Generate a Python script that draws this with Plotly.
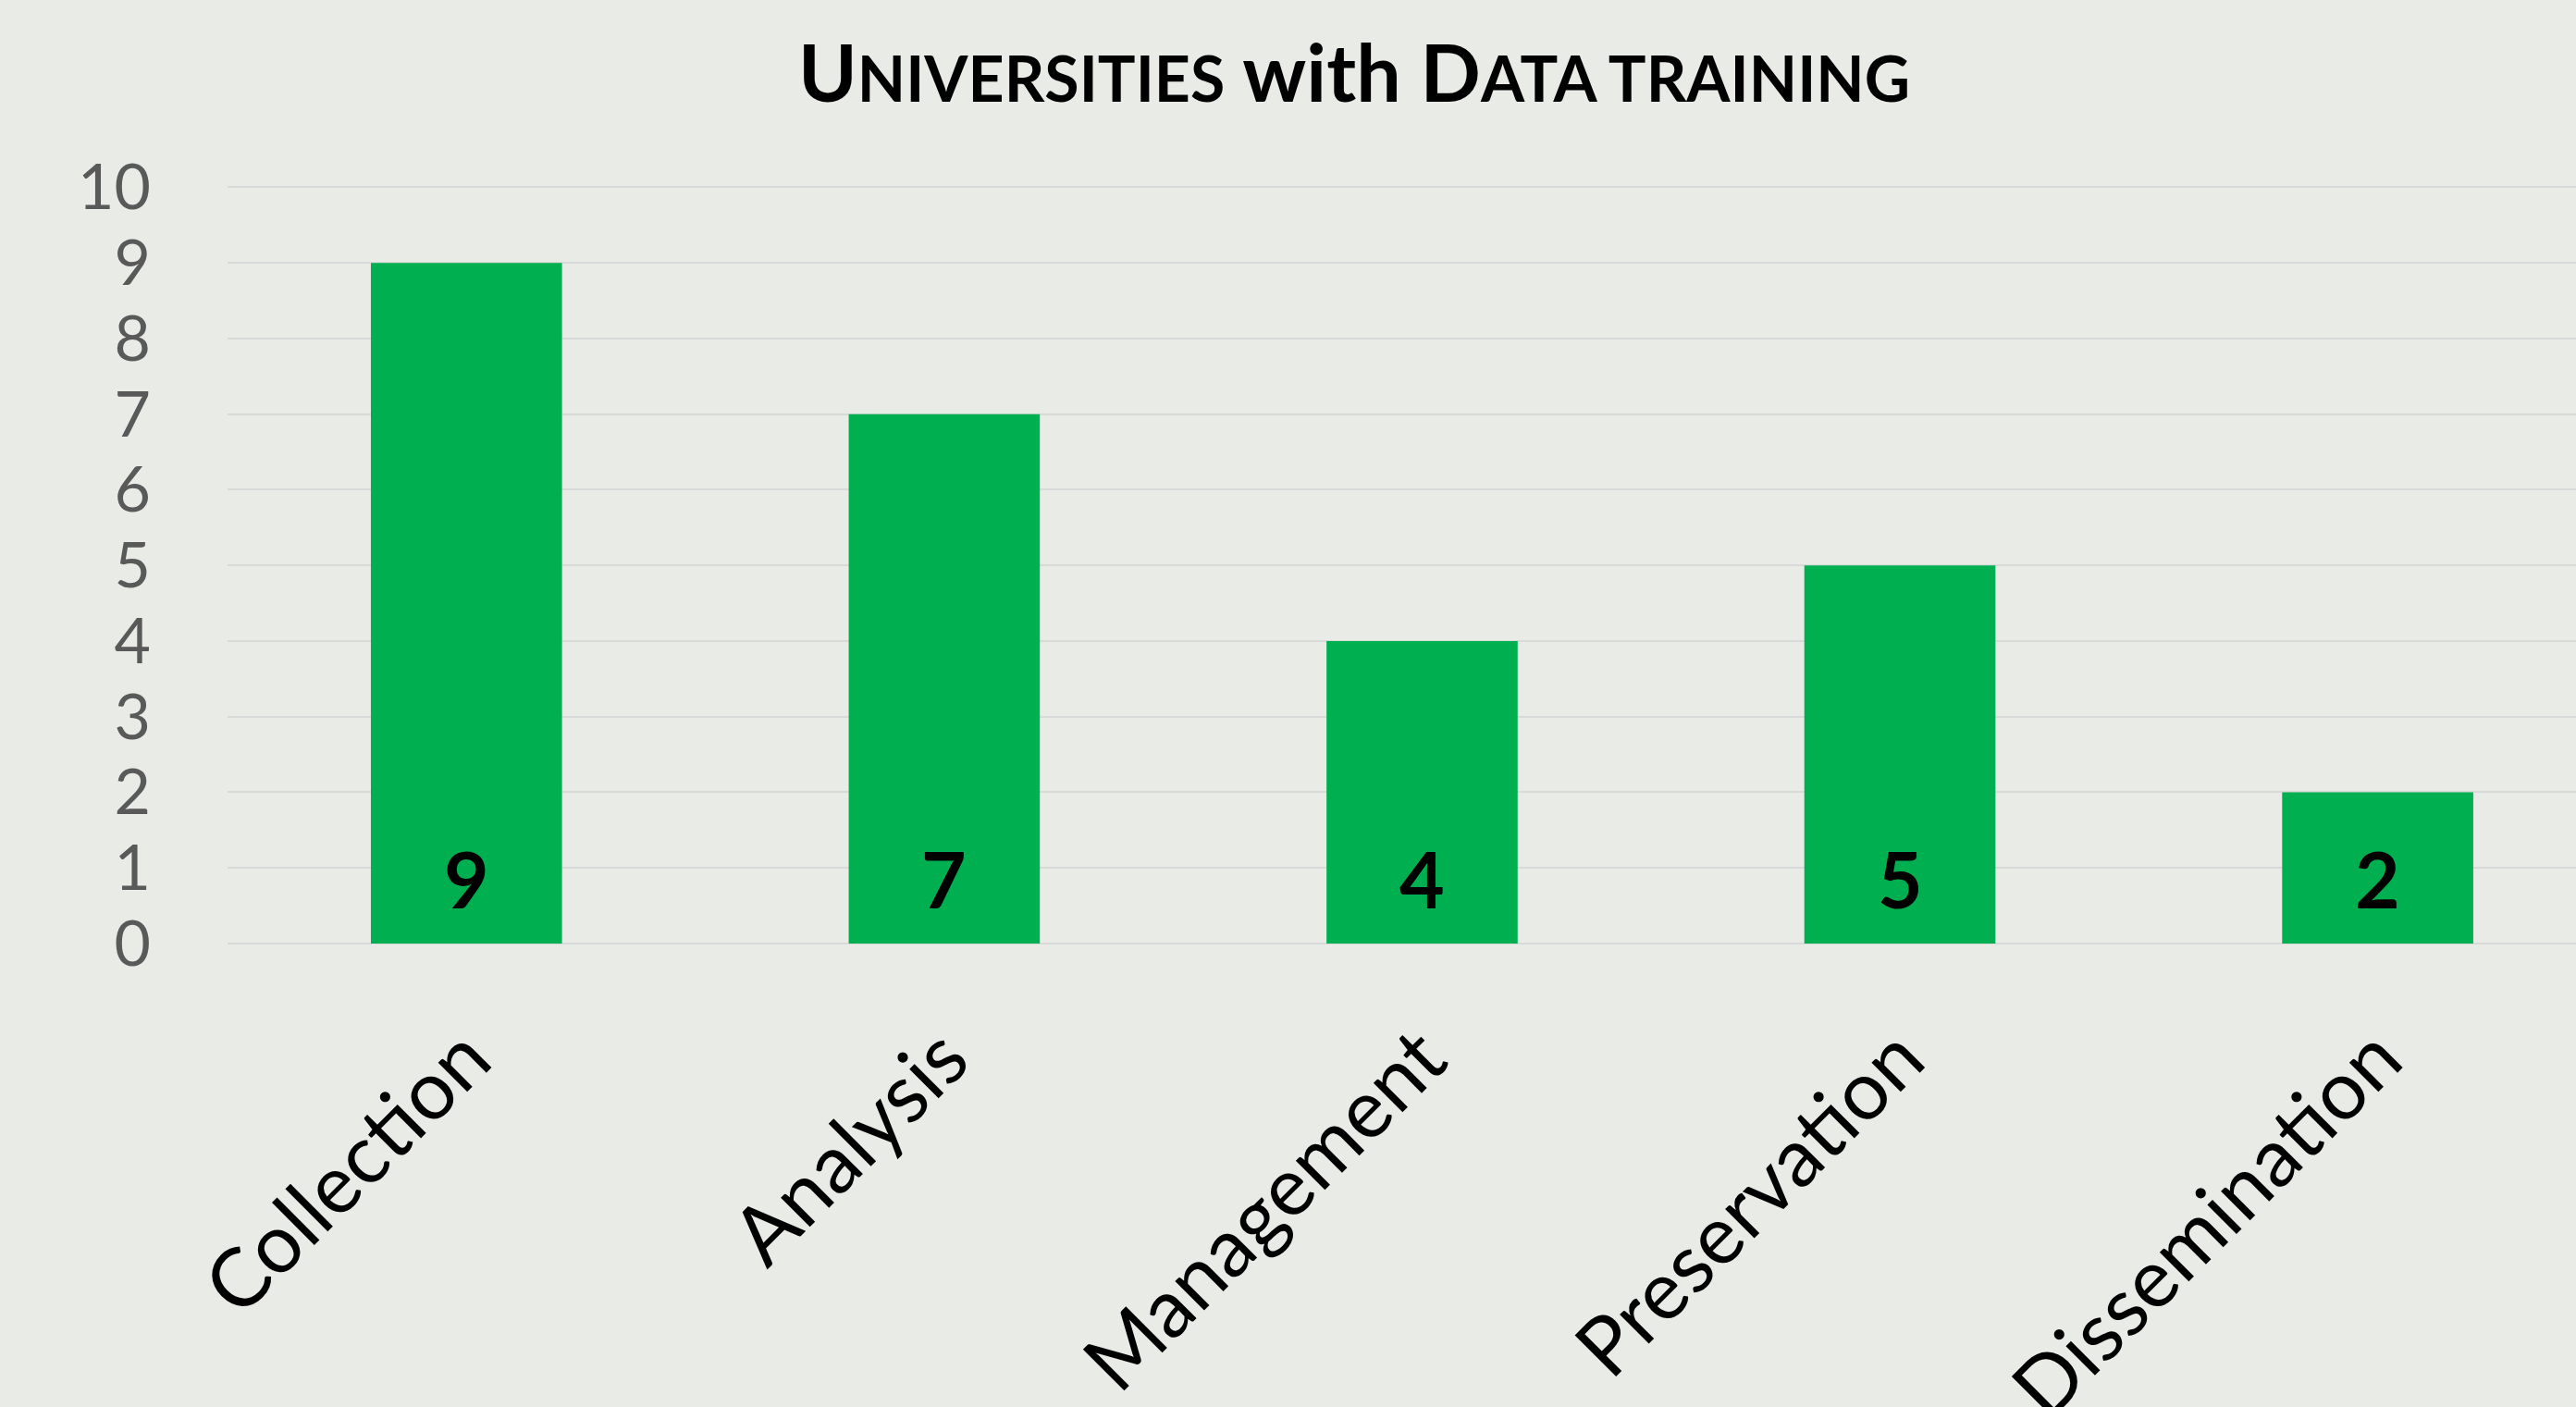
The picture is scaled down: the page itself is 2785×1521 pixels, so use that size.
import plotly.graph_objects as go

categories = ["Collection", "Analysis", "Management", "Preservation", "Dissemination"]
values = [9, 7, 4, 5, 2]
y_ticks = list(range(0, 11))

BG = "#E9EBE6"
GREEN = "#00B050"
FONT = "Lato"

fig = go.Figure()
fig.add_trace(go.Bar(
    x=categories,
    y=values,
    width=0.4,
    marker=dict(color=GREEN, line=dict(width=0)),
    hoverinfo="skip",
))

# value labels sitting near the base of each bar
for c, v in zip(categories, values):
    fig.add_annotation(
        x=c, y=0, xref="x", yref="y",
        text=f"<b>{v}</b>",
        showarrow=False,
        xanchor="center", yanchor="bottom",
        yshift=18,
        font=dict(family=FONT, size=84, color="black"),
    )

title_html = (
    "<b><span style='font-size:86px'>U</span>"
    "<span style='font-size:68px'>NIVERSITIES</span>"
    "<span style='font-size:86px'> with D</span>"
    "<span style='font-size:68px'>ATA TRAINING</span></b>"
)

fig.update_layout(
    width=2785,
    height=1521,
    margin=dict(l=246, r=0, t=200, b=501, pad=0, autoexpand=False),
    paper_bgcolor=BG,
    plot_bgcolor=BG,
    showlegend=False,
    title=dict(
        text=title_html,
        x=1464 / 2785,
        xref="container",
        xanchor="center",
        y=1 - 80 / 1521,
        yref="container",
        yanchor="middle",
        font=dict(family=FONT, color="black", size=86),
    ),
)

fig.update_xaxes(
    range=[-0.5, 4.415],
    tickangle=-45,
    tickfont=dict(family=FONT, size=88, color="black"),
    showgrid=False,
    zeroline=False,
    showline=False,
    ticks="",
    ticklabelstandoff=54,
    automargin=False,
)

fig.update_yaxes(
    range=[0, 10.03],
    tickvals=y_ticks,
    ticktext=[str(t) for t in y_ticks],
    tickfont=dict(family=FONT, size=68, color="#595959"),
    showgrid=True,
    gridcolor="#D9D9D9",
    gridwidth=2,
    zeroline=True,
    zerolinecolor="#D9D9D9",
    zerolinewidth=2,
    showline=False,
    ticks="",
    ticklabelstandoff=82,
    automargin=False,
)

fig.write_html(
    "out.html",
    config={"displayModeBar": False},
    post_script="document.body.style.margin='0';document.body.style.overflow='hidden';",
)
